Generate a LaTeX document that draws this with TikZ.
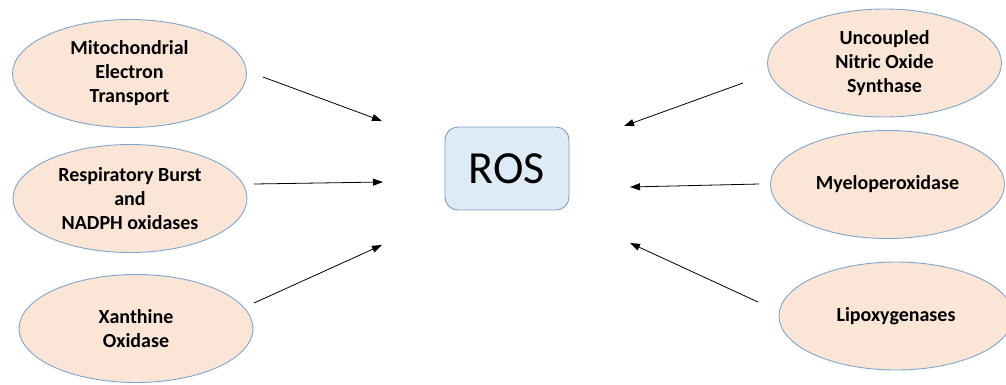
\documentclass[tikz,border=0pt]{standalone}
\usepackage{fontspec}
\setmainfont{Carlito}
\usetikzlibrary{shapes.geometric,arrows.meta}
\definecolor{peach}{HTML}{FBE5D6}
\definecolor{ellborder}{HTML}{7EA6CF}
\definecolor{rosfill}{HTML}{DEEBF7}
\definecolor{rosborder}{HTML}{7D9CC0}
\tikzset{
  src/.style={ellipse, draw=ellborder, line width=0.9pt, fill=peach,
    minimum width=234pt, minimum height=108pt, inner sep=0pt,
    align=center, font=\fontsize{20}{24}\selectfont\bfseries},
  rosbox/.style={rounded corners=13pt, draw=rosborder, line width=0.9pt, fill=rosfill,
    minimum width=124pt, minimum height=83pt, inner sep=0pt,
    font=\fontsize{46}{52}\selectfont},
  arr/.style={-{Triangle[length=10pt,width=7pt]}, line width=0.8pt, black}
}
\begin{document}
\begin{tikzpicture}[x=1pt,y=-1pt]
\useasboundingbox (0,0) rectangle (1006,384);
\begin{scope}
\clip (0,0) rectangle (1006,384);
\node[src] (mit) at (129.5,73.5) {Mitochondrial\\Electron\\Transport};
\node[src] (resp) at (130,198.5) {Respiratory Burst\\and\\NADPH oxidases};
\node[src] (xan) at (136,328.5) {Xanthine\\Oxidase};
\node[src] (unc) at (884.5,63) {Uncoupled\\Nitric Oxide\\Synthase};
\node[src] (mye) at (887.5,184.5) {Myeloperoxidase};
\node[src] (lip) at (896,316) {Lipoxygenases};
\end{scope}
\node[rosbox] (ros) at (507,168.5) {ROS};
\coordinate (a1s) at (263,77);  \coordinate (a1e) at (382,121);
\coordinate (a2s) at (254,184); \coordinate (a2e) at (383,182);
\coordinate (a3s) at (254,303); \coordinate (a3e) at (382,245);
\coordinate (a4s) at (743,83);  \coordinate (a4e) at (624,126);
\coordinate (a5s) at (759,184); \coordinate (a5e) at (630,187);
\coordinate (a6s) at (758,302); \coordinate (a6e) at (630,243);
\draw[arr] (a1s) -- (a1e);
\draw[arr] (a2s) -- (a2e);
\draw[arr] (a3s) -- (a3e);
\draw[arr] (a4s) -- (a4e);
\draw[arr] (a5s) -- (a5e);
\draw[arr] (a6s) -- (a6e);
\end{tikzpicture}
\end{document}
